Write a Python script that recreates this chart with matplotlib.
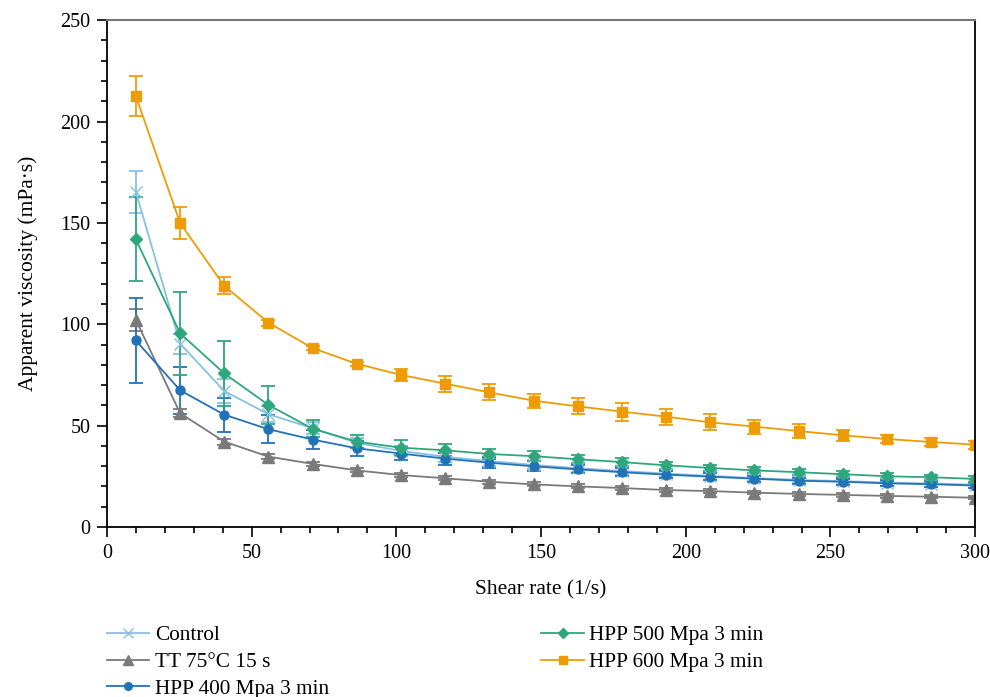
from matplotlib import pyplot as plt
from matplotlib.lines import Line2D
from matplotlib.ticker import MultipleLocator

plt.rcParams['font.family'] = ['Liberation Serif', 'DejaVu Serif']

shear_rate = [10, 25.3, 40.5, 55.8, 71.1, 86.3, 101.6, 116.8, 132.1, 147.4,
              162.6, 177.9, 193.2, 208.4, 223.7, 239.0, 254.2, 269.5, 284.7, 300]

control = [165.3, 90.4, 67.1, 55.6, 48.7, 41.5, 37.5, 34.6, 32.5, 30.6,
           29.0, 27.6, 26.3, 25.2, 24.1, 23.2, 22.6, 21.9, 21.4, 20.9]
control_err = [10.2, 5, 6, 4, 3, 2.5, 2.5, 2.5, 2.2, 2.2,
               2, 2, 1.8, 1.8, 1.6, 1.6, 1.5, 1.5, 1.5, 1.5]

tt = [102.1, 56.1, 42.1, 34.7, 31.1, 27.9, 25.6, 24.0, 22.3, 21.0,
      20.0, 19.2, 18.2, 17.7, 16.9, 16.3, 15.8, 15.3, 14.9, 14.4]
tt_err = [5.6, 2, 1.5, 1.2, 1, 1, 1, 1, 1, 1,
          1, 1, 0.8, 0.8, 0.8, 0.8, 0.8, 0.8, 0.8, 0.8]

hpp400 = [92.0, 67.4, 55.4, 48.2, 43.1, 38.8, 36.2, 33.7, 31.7, 29.9,
          28.4, 27.0, 25.8, 24.8, 23.8, 22.8, 22.3, 21.5, 21.1, 20.4]
hpp400_err = [20.8, 11.7, 8.4, 7, 4.7, 3.7, 3.3, 3, 2.8, 2.5,
              2, 2, 1.8, 1.6, 1.5, 1.5, 1.4, 1.4, 1.3, 1.3]

hpp500 = [141.9, 95.5, 75.8, 60.2, 48.4, 42.1, 39.1, 37.8, 36.0, 34.9,
          33.4, 32.0, 30.4, 29.1, 27.9, 27.0, 26.0, 25.0, 24.5, 23.7]
hpp500_err = [20.7, 20.5, 16, 9.3, 4.2, 3.3, 3.8, 2.9, 2.6, 2.5,
              2, 2, 1.8, 1.6, 1.5, 1.5, 1.4, 1.4, 1.3, 1.3]

hpp600 = [212.6, 149.9, 119.0, 100.8, 88.2, 80.5, 75.0, 70.7, 66.4, 62.3,
          59.5, 56.9, 54.4, 51.6, 49.5, 47.3, 45.2, 43.4, 41.9, 40.6]
hpp600_err = [10, 8, 4.3, 1.5, 1, 1, 2.8, 4, 4, 3.5,
              4, 4.4, 3.9, 4, 3.5, 3.3, 2.8, 2, 2, 2]

series = [
    ("Control", control, control_err, "#85c0e6", "x", 8),
    ("TT 75°C 15 s", tt, tt_err, "#7a7a7a", "^", 8),
    ("HPP 400 Mpa 3 min", hpp400, hpp400_err, "#2272b8", "o", 6.5),
    ("HPP 500 Mpa 3 min", hpp500, hpp500_err, "#2fa77c", "D", 6),
    ("HPP 600 Mpa 3 min", hpp600, hpp600_err, "#ee9c06", "s", 6.5),
]

fig = plt.figure(figsize=(9.9, 6.97), dpi=100)
ax = fig.add_axes([0.108, 0.244, 0.877, 0.727])

handles = []
for label, y, err, color, marker, ms in series:
    ax.errorbar(shear_rate, y, yerr=err, color=color, marker=marker,
                markersize=ms, linewidth=1.3, elinewidth=1.3, capsize=5, capthick=1.3)
    handles.append(Line2D([], [], color=color, marker=marker, markersize=ms * 0.85,
                          linewidth=1.3, label=label))

ax.set_xlim(0, 300)
ax.set_ylim(0, 250)
ax.xaxis.set_major_locator(MultipleLocator(50))
ax.xaxis.set_minor_locator(MultipleLocator(10))
ax.yaxis.set_major_locator(MultipleLocator(50))
ax.yaxis.set_minor_locator(MultipleLocator(10))
ax.tick_params(which='major', direction='out', length=7, width=1.2, labelsize=14.5, pad=5)
ax.tick_params(which='minor', direction='out', length=4.5, width=1.2)
for side in ["left", "bottom", "right"]:
    ax.spines[side].set_linewidth(1.3)
ax.spines["top"].set_color("#777777")
ax.spines["top"].set_linewidth(1.5)

ax.set_xlabel("Shear rate (1/s)", fontsize=15.5, labelpad=13)
ax.set_ylabel("Apparent viscosity (mPa·s)", fontsize=15.5, labelpad=16)

ax.legend(handles=handles, loc="upper left", bbox_to_anchor=(0.0, -0.194), ncol=2,
          frameon=False, fontsize=15.3, handlelength=2.0, columnspacing=10.0,
          labelspacing=0.33, handletextpad=0.25, borderaxespad=0, borderpad=0)

plt.savefig("out.png", dpi=100)
